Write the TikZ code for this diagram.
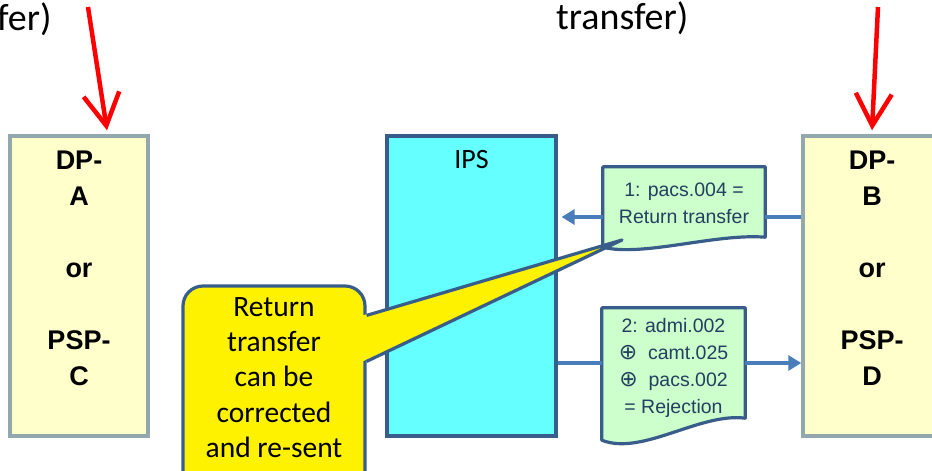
\documentclass[tikz,border=0pt]{standalone}
\usepackage{fontspec}
\setmainfont{Carlito}
\newfontfamily\arialfont{Liberation Sans}
\newfontfamily\symbolfont{DejaVu Sans}
\usetikzlibrary{positioning,calc,arrows.meta}

\definecolor{dpfill}{HTML}{FFFFCC}
\definecolor{dpline}{HTML}{93A8AC}
\definecolor{ipsfill}{HTML}{66FFFF}
\definecolor{darkline}{HTML}{385D8A}
\definecolor{msgfill}{HTML}{CCFFCC}
\definecolor{msgink}{HTML}{243F60}
\definecolor{flowblue}{HTML}{4A7EBB}

\newcommand{\plusmark}{{\symbolfont\fontsize{22}{27}\selectfont ⊕}}

\tikzset{
  party/.style={draw=dpline, fill=dpfill, line width=3.5pt, minimum width=138pt, minimum height=300pt, inner sep=0pt},
  partytext/.style={font=\arialfont\bfseries\fontsize{27}{36}\selectfont, align=center, inner sep=0pt},
  switch/.style={draw=darkline, fill=ipsfill, line width=3.2pt, minimum width=169pt, minimum height=300pt, inner sep=0pt},
  switchtext/.style={font=\fontsize{28}{34}\selectfont, inner sep=0pt},
  msgframe/.style={inner sep=0pt},
  msgbox/.style={draw=darkline, fill=msgfill, line width=3.2pt, line join=round},
  msgtext/.style={font=\arialfont\fontsize{19.5}{27}\selectfont, text=msgink, align=center, inner sep=0pt},
  flow/.style={draw=flowblue, line width=3.2pt},
  flowarrow/.style={flow, -{Triangle[length=13pt,width=15pt]}},
  cue/.style={draw=red, line width=4.5pt, -{Straight Barb[length=32pt,width=36pt]}},
  note/.style={draw=darkline, fill=yellow, line width=3.2pt, rounded corners=20pt, minimum width=182pt, minimum height=204pt, inner sep=0pt},
  notetext/.style={font=\fontsize{29.5}{35.2}\selectfont, align=center, inner sep=0pt},
  title/.style={font=\fontsize{38}{44}\selectfont, inner sep=0pt}
}

\begin{document}
\begin{tikzpicture}[x=1pt,y=-1pt]
    \useasboundingbox (0,0) rectangle (932,471);

    % headings, cut by the frame
    \node[title, anchor=base west] (titlea) at (-3,30) {fer)};
    \node[title, anchor=base west] (titleb) at (556,29) {transfer)};

    % the two sides
    \node[party] (dpa) at (79,286) {};
    \node[partytext, below=16pt of dpa.north] (dpatext) {DP-\\A\\[36pt]or\\[36pt]PSP-\\C};
    \node[party] (dpb) at (872,286) {};
    \node[partytext, below=16pt of dpb.north] (dpbtext) {DP-\\B\\[36pt]or\\[36pt]PSP-\\D};

    % the switch
    \node[switch] (ips) at (471.5,286) {};
    \node[switchtext, below=16pt of ips.north] (ipstext) {IPS};

    % messages
    \node[msgframe, minimum width=162pt, minimum height=70pt] (ret) at (684,202) {};
    \draw[msgbox] (ret.north west) -- (ret.north east) -- (ret.south east)
        .. controls +(-50,-4) and +(40,10) .. ($(ret.south west)+(0,10)$) -- cycle;
    \node[msgtext, below=16pt of ret.north] (rettext) {1: pacs.004 =\\Return transfer};

    \node[msgframe, minimum width=143pt, minimum height=110pt] (rej) at (673.5,363) {};
    \draw[msgbox] (rej.north west) -- (rej.north east) -- (rej.south east)
        .. controls +(-45,-6) and +(40,16) .. ($(rej.south west)+(0,22)$) -- cycle;
    \node[msgtext, below=10pt of rej.north] (rejtext) {2: admi.002\\\plusmark\ \ camt.025\\\plusmark\ \ pacs.002\\= Rejection};

    % flows
    \coordinate (retport) at ([yshift=-15pt]ret.east);
    \coordinate (retout) at ([yshift=-15pt]ret.west);
    \draw[flow] (dpb.west |- retport) -- (retport);
    \draw[flowarrow, shorten >=4pt] (retout) -- (ips.east |- retout);
    \draw[flow] (ips.east |- rej.west) -- (rej.west);
    \draw[flowarrow] (rej.east) -- (dpb.west |- rej.east);

    % red cues from above
    \coordinate (cuea) at (88,7);
    \coordinate (cueb) at (878,7);
    \draw[cue] (cuea) -- ([xshift=28pt,yshift=4pt]dpa.north);
    \draw[cue] (cueb) -- ([yshift=4pt]dpb.north);

    % callout
    \node[note] (hint) at (274,388) {};
    \coordinate (hinttip) at (622,240);
    \fill[yellow] ($(hint.north east)+(-4,31)$) -- (hinttip) -- ($(hint.north east)+(-4,77)$) -- cycle;
    \draw[darkline, line width=3.2pt, line join=round] ($(hint.north east)+(0,31)$) -- (hinttip) -- ($(hint.north east)+(0,77)$);
    \node[notetext, below=13pt of hint.north] (hinttext) {Return\\transfer\\can be\\corrected\\and re-sent};
\end{tikzpicture}
\end{document}
